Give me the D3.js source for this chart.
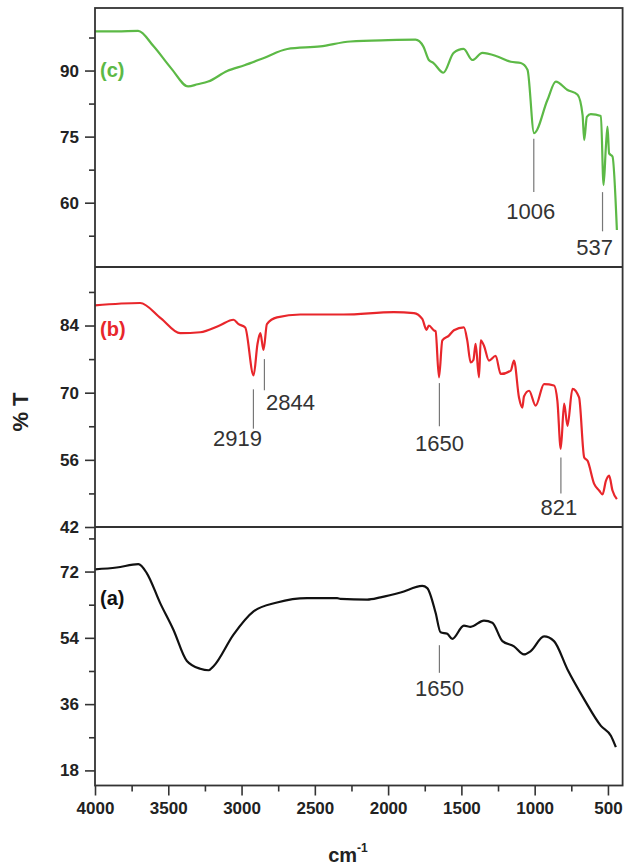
<!DOCTYPE html>
<html><head><meta charset="utf-8">
<script src="https://cdnjs.cloudflare.com/ajax/libs/d3/7.8.5/d3.min.js"></script>
<style>body{margin:0;background:#fff}svg{display:block}</style>
</head><body><svg id="c" width="624" height="868"></svg>
<script>
// ---- data ----
const wnC = [4000,3850,3706,3600,3480,3364,3300,3228,3098,2980,2852,2688,2462,2257,2000,1813,1760,1722,1690,1623,1553,1485,1425,1357,1254,1163,1095,1049,1004,913,856,776,707,673,662,644,617,548,530,514,503,492,469,439];
const tC  = [98.9,98.9,99,95.5,90.5,86.4,86.9,87.5,89.9,91.2,92.8,94.9,95.5,96.6,96.9,97,95.5,92.4,91.7,89.5,94,94.9,92.4,94,93.2,92,91.7,90.2,75.8,83.3,87.5,85.6,84.5,79.9,74.2,79.5,80.1,79.7,64,72.7,77.3,71.2,70.5,53.8];

const wnB = [4000,3692,3550,3419,3282,3150,3055,3020,2975,2918,2891,2872,2850,2827,2758,2599,2303,1961,1824,1767,1738,1722,1688,1676,1653,1630,1585,1551,1483,1460,1437,1418,1403,1380,1368,1346,1312,1266,1232,1163,1141,1107,1084,1073,1038,993,936,868,845,822,799,776,742,697,662,639,594,560,537,514,492,469,439];
const tB  = [88.2,88.7,85.5,82.4,82.6,84.0,85.2,84.3,83.6,73.6,80.2,82.4,78.9,84.3,85.7,86.3,86.3,86.8,86.6,85.4,83.1,84,83,82.8,73.2,80.9,81.9,83,83.6,80.9,76.3,76.8,80.2,73.2,80.9,79.8,76.7,77.7,73.9,74.6,76.7,69,66.9,69.2,70.4,67.3,71.8,71.5,68.3,58.3,67.7,63.1,70.8,69,56.5,55.8,51,49.6,48.8,51.6,52.7,49.6,47.8];

const wnA = [4000,3852,3704,3647,3556,3465,3373,3282,3225,3191,3055,2918,2758,2553,2348,2325,2143,2052,1915,1767,1733,1676,1642,1596,1562,1483,1437,1346,1289,1220,1141,1073,1027,936,868,776,662,548,480,446];
const tA  = [72.6,73.1,74,71.6,63.5,56.2,47.7,45.6,45.2,46.3,54.9,61.2,63.6,64.8,64.8,64.6,64.4,65.0,66.3,68.1,67.5,60.8,55.5,55.1,53.7,57.3,57,58.7,58.1,53.1,51.7,49.5,50.4,54.4,53.1,45.4,37.3,30.1,27.4,24.3];

const xTicks = [4000,3500,3000,2500,2000,1500,1000,500];
const xMinor = [3750,3250,2750,2250,1750,1250,750];
const yTicksC = [60,75,90], yMinorC = [52.5,67.5,82.5,97.5];
const yTicksB = [42,56,70,84], yMinorB = [49,63,77,91];
const yTicksA = [18,36,54,72], yMinorA = [27,45,63,81];
const peaksC = [1006,537], peaksB = [2919,2844,1650,821], peaksA = [1650];

// ---- layout ----
const svg = d3.select("#c");
const L = 95, R = 622.6, T0 = 8, B1 = 267, B2 = 527, B3 = 785.5;
const x = d3.scaleLinear().domain([4000,400]).range([L,R]);
const yC = d3.scaleLinear().domain([45.4,104.2]).range([B1,T0]);
const yB = d3.scaleLinear().domain([42,96.2]).range([B2,B1]);
const yA = d3.scaleLinear().domain([13.9,84.1]).range([B3,B2]);

const FONT = "'Liberation Sans', Arial, sans-serif";
const axisCol = "#333";

function panel(wn, t, y, major, minor, color) {
  const line = d3.line().x((d,i)=>x(wn[i])).y((d,i)=>y(t[i])).curve(d3.curveMonotoneX);
  svg.append("path").attr("d", line(wn)).attr("fill","none")
     .attr("stroke", color).attr("stroke-width", 2.2).attr("stroke-linejoin","round");
  const ax = d3.axisLeft(y).tickValues(major).tickSize(10).tickPadding(6).tickFormat(d3.format("d"));
  const g = svg.append("g").attr("transform",`translate(${L},0)`).call(ax);
  g.select(".domain").remove();
  g.selectAll("line").attr("stroke",axisCol).attr("stroke-width",1.6);
  g.selectAll("text").attr("font-family",FONT).attr("font-weight","bold").attr("font-size",17).attr("fill","#222");
  const gm = svg.append("g").attr("transform",`translate(${L},0)`)
     .call(d3.axisLeft(y).tickValues(minor).tickSize(6).tickFormat(""));
  gm.select(".domain").remove();
  gm.selectAll("line").attr("stroke",axisCol).attr("stroke-width",1.6);
}

panel(wnC, tC, yC, yTicksC, yMinorC, "#5cb946");
panel(wnB, tB, yB, yTicksB, yMinorB, "#e8262b");
panel(wnA, tA, yA, yTicksA, yMinorA, "#111");

// x axis
const gx = svg.append("g").attr("transform",`translate(0,${B3})`)
  .call(d3.axisBottom(x).tickValues(xTicks).tickSize(10).tickPadding(6).tickFormat(d3.format("d")));
gx.select(".domain").remove();
gx.selectAll("line").attr("stroke",axisCol).attr("stroke-width",1.6);
gx.selectAll("text").attr("font-family",FONT).attr("font-weight","bold").attr("font-size",17).attr("fill","#222");
const gxm = svg.append("g").attr("transform",`translate(0,${B3})`)
  .call(d3.axisBottom(x).tickValues(xMinor).tickSize(6).tickFormat(""));
gxm.select(".domain").remove();
gxm.selectAll("line").attr("stroke",axisCol).attr("stroke-width",1.6);

// frame and separators
svg.append("rect").attr("x",L).attr("y",T0).attr("width",R-L).attr("height",B3-T0)
   .attr("fill","none").attr("stroke",axisCol).attr("stroke-width",1.8);
[B1,B2].forEach(yy=>svg.append("line").attr("x1",L).attr("x2",R).attr("y1",yy).attr("y2",yy)
   .attr("stroke",axisCol).attr("stroke-width",1.8));

// panel labels
[["(c)","#5cb946",yC(90)+6],["(b)","#e8262b",yB(84)+10],["(a)","#111",yA(64)+4]].forEach(([s,c,yy])=>{
  svg.append("text").attr("x",100).attr("y",yy).text(s).attr("fill",c)
     .attr("font-family",FONT).attr("font-weight","bold").attr("font-size",20);
});

// peak annotations: [wavenumber, scale, lineTop(T), lineBottom(T), textDx, textBaseline(T)]
const ann = [
  [peaksC[0], yC, 74.5, 62.4, -3, 56.2],
  [peaksC[1], yC, 62.4, 53.5, -8, 48.2],
  [peaksB[0], yB, 70.7, 62.5, -16, 58.9],
  [peaksB[1], yB, 77.0, 70.5, 26, 66.4],
  [peaksB[2], yB, 72.0, 63.0, 0, 57.9],
  [peaksB[3], yB, 56.5, 49.0, -2, 44.5],
  [peaksA[0], yA, 52.0, 44.5, 0, 38.3]
];
ann.forEach(([w,y,t1,t2,dx,tb])=>{
  svg.append("line").attr("x1",x(w)).attr("x2",x(w)).attr("y1",y(t1)).attr("y2",y(t2))
     .attr("stroke","#777").attr("stroke-width",1.2);
  svg.append("text").attr("x",x(w)+dx).attr("y",y(tb)).attr("text-anchor","middle").text(w)
     .attr("font-family",FONT).attr("font-size",22).attr("fill","#333");
});

// axis titles
svg.append("text").attr("transform","translate(28,412) rotate(-90)").attr("text-anchor","middle")
   .attr("font-family",FONT).attr("font-weight","bold").attr("font-size",22).attr("fill","#222").text("% T");
const xt = svg.append("text").attr("x",348).attr("y",862).attr("text-anchor","middle")
   .attr("font-family",FONT).attr("font-weight","bold").attr("font-size",20).attr("fill","#222");
xt.append("tspan").text("cm");
xt.append("tspan").attr("dy",-10).attr("font-size",12).text("-1");
</script></body></html>
